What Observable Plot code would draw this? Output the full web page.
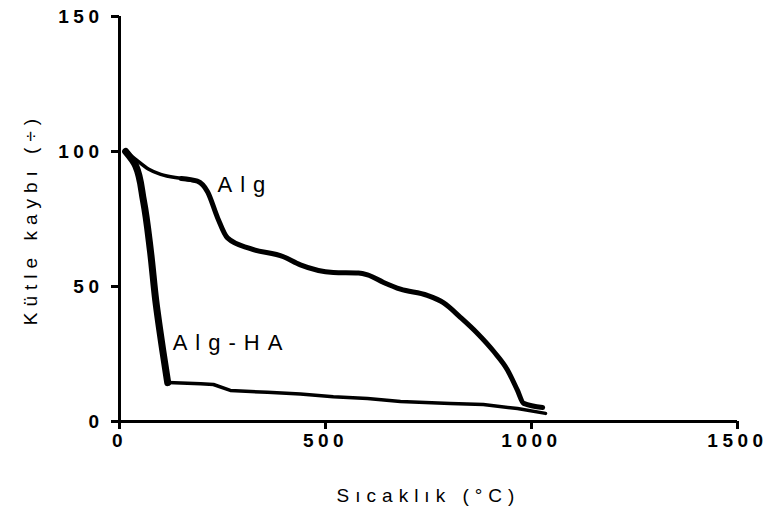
<!DOCTYPE html>
<html>
<head>
<meta charset="utf-8">
<script src="https://cdn.jsdelivr.net/npm/d3@7"></script>
<script src="https://cdn.jsdelivr.net/npm/@observablehq/plot@0.6"></script>
<style>
  html, body { margin: 0; padding: 0; background: #fff; }
  #chart svg { font-family: "Liberation Sans", Arial, sans-serif; }
  #chart g[aria-label="x-axis tick label"] text,
  #chart g[aria-label="y-axis tick label"] text { letter-spacing: 4.5px; }
  #chart g.axis-title text { letter-spacing: 6px; }
  #chart g.series-label text { letter-spacing: 8px; }
</style>
</head>
<body>
<div id="chart"></div>
<script>
// Temperature (°C) and mass (%) for Alg
const algTemp = [15, 40, 70, 100, 150, 189, 214, 238, 262, 318, 398, 439, 519, 580, 602, 641, 682, 747, 786, 828, 869, 908, 942, 966, 981, 1027];
const algMass = [100, 97, 93.5, 91.5, 90, 89, 85, 75.5, 68, 64, 61, 58, 55.2, 55, 54.3, 51.5, 49, 46.7, 44, 38.5, 32.6, 26, 19, 11.5, 6.7, 5.2];

// Alg-HA steep descent
const haDropTemp = [15, 39, 58, 75, 88, 105, 117];
const haDropMass = [100, 94.8, 81.9, 63.3, 44.8, 26.3, 14.4];
// Alg-HA tail
const haTailTemp = [117, 197, 228, 269, 359, 439, 519, 602, 682, 803, 883, 966, 1034];
const haTailMass = [14.4, 14, 13.7, 11.5, 10.8, 10.2, 9.2, 8.5, 7.4, 6.7, 6.3, 4.8, 3];

const seriesLabels = ["Alg", "Alg-HA"];
const labelTemp = [238, 129];
const labelMass = [87.6, 29];

const xTicks = [0, 500, 1000, 1500];
const yTicks = [0, 50, 100, 150];
const xTitle = "Sıcaklık (°C)";
const yTitle = "Kütle kaybı (÷)";

const toRows = (xs, ys) => xs.map((x, i) => ({x, y: ys[i]}));
const alg = toRows(algTemp, algMass);
const haDrop = toRows(haDropTemp, haDropMass);
const haTail = toRows(haTailTemp, haTailMass);
const labels = seriesLabels.map((t, i) => ({t, x: labelTemp[i], y: labelMass[i]}));

const chart = Plot.plot({
  width: 768,
  height: 524,
  marginLeft: 119,
  marginRight: 31,
  marginTop: 16,
  marginBottom: 103,
  style: {fontFamily: "Liberation Sans, Arial, sans-serif", background: "#fff", color: "#000"},
  x: {domain: [0, 1500]},
  y: {domain: [0, 150]},
  marks: [
    Plot.axisX({ticks: xTicks, tickSize: 8, strokeWidth: 3, tickPadding: 4, fontSize: 19, fontWeight: "bold",
      tickFormat: d => String(d), label: null}),
    Plot.axisY({ticks: yTicks, tickSize: 8, strokeWidth: 3, tickPadding: 8, fontSize: 19, fontWeight: "bold",
      tickFormat: d => String(d), label: null}),
    Plot.ruleX([0], {y1: 0, y2: 150, strokeWidth: 3}),
    Plot.ruleY([0], {x1: 0, x2: 1500, strokeWidth: 3}),
    Plot.line(alg.filter(d => d.x <= 189), {x: "x", y: "y", stroke: "#000", strokeWidth: 3.5, curve: "monotone-x"}),
    Plot.line(alg.filter(d => d.x >= 150), {x: "x", y: "y", stroke: "#000", strokeWidth: 5, curve: "monotone-x"}),
    Plot.line(haDrop, {x: "x", y: "y", stroke: "#000", strokeWidth: 7, curve: "monotone-y"}),
    Plot.line(haTail, {x: "x", y: "y", stroke: "#000", strokeWidth: 3.5, curve: "linear"}),
    Plot.text(labels, {x: "x", y: "y", text: "t", textAnchor: "start", fontSize: 22, fill: "#000", className: "series-label"}),
    Plot.text([xTitle], {frameAnchor: "bottom", dy: 80, text: d => d, fontSize: 19, fill: "#000", className: "axis-title"}),
    Plot.text([yTitle], {frameAnchor: "left", textAnchor: "middle", dx: -89, rotate: -90, text: d => d, fontSize: 19, fill: "#000", className: "axis-title"})
  ]
});
document.getElementById("chart").appendChild(chart);
</script>
</body>
</html>
